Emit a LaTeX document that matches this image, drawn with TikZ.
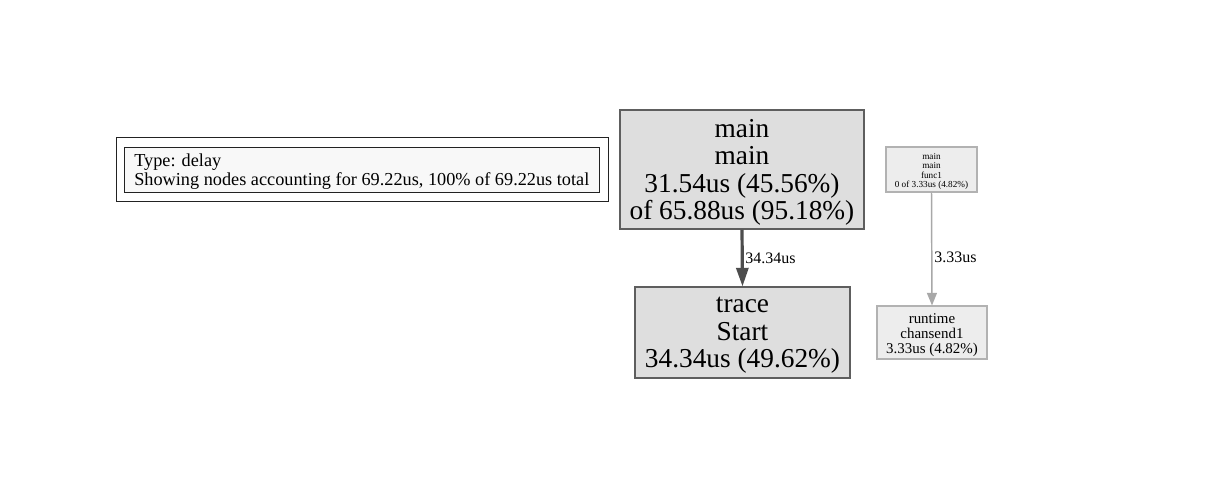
\documentclass[tikz,border=0pt]{standalone}
\usepackage{fontspec}
\setmainfont{Liberation Serif}
\usetikzlibrary{arrows.meta}
\definecolor{bigfill}{HTML}{DEDEDE}
\definecolor{bigdraw}{HTML}{5E5E5E}
\definecolor{smallfill}{HTML}{EDEDED}
\definecolor{smalldraw}{HTML}{B2B2B2}
\definecolor{legfill}{HTML}{F8F8F8}
\definecolor{legdraw}{HTML}{222222}
\definecolor{thickedge}{HTML}{4D4D4D}
\definecolor{thinedge}{HTML}{A8A8A8}
\tikzset{
  box/.style={draw, rectangle, inner sep=0pt, line width=0.8pt},
  bigbox/.style={box, fill=bigfill, draw=bigdraw},
  smallbox/.style={box, fill=smallfill, draw=smalldraw},
  bigtext/.style={align=center, inner sep=0pt, yshift=-2.25pt, font=\fontsize{20.5}{20.6}\selectfont},
  midtext/.style={align=center, inner sep=0pt, yshift=-2pt, font=\fontsize{11.2}{11.25}\selectfont},
  tinytext/.style={align=center, inner sep=0pt, yshift=-1.5pt, font=\fontsize{6.9}{7}\selectfont},
  edgelabel/.style={font=\fontsize{12}{13}\selectfont, inner sep=0pt, anchor=west},
}
\begin{document}
\begin{tikzpicture}[x=0.75pt, y=-0.75pt]
\useasboundingbox (0,0) rectangle (1207,500);
% legend
\node[draw=legdraw, line width=0.75pt, minimum width=369pt, minimum height=48pt, inner sep=0pt] (legout) at (362,169) {};
\node[draw=legdraw, fill=legfill, line width=0.75pt, minimum width=356.25pt, minimum height=33.75pt, inner sep=0pt] (legin) at (361.5,169.5) {};
\node[anchor=west, align=left, inner sep=0pt, font=\fontsize{13.7}{14.25}\selectfont] (legtext) at (134,171.5) {Type: delay\\Showing nodes accounting for 69.22us, 100\% of 69.22us total};
% nodes
\node[bigbox, minimum width=183pt, minimum height=89.25pt,
  label={[bigtext]center:main\\main\\31.54us (45.56\%)\\of 65.88us (95.18\%)}] (main) at (742,169.5) {};
\node[bigbox, minimum width=161.25pt, minimum height=68.25pt,
  label={[bigtext]center:trace\\Start\\34.34us (49.62\%)}] (trace) at (742.5,332.5) {};
\node[smallbox, minimum width=68.25pt, minimum height=33.75pt,
  label={[tinytext]center:main\\main\\func1\\0 of 3.33us (4.82\%)}] (func1) at (931.5,169.5) {};
\node[smallbox, minimum width=82.5pt, minimum height=39.75pt,
  label={[midtext]center:runtime\\chansend1\\3.33us (4.82\%)}] (runtime) at (932,332.5) {};
% edges
\draw[draw=thickedge, line width=2.4pt, -{Triangle[length=14pt, width=9pt]}] (main.south) -- (trace.north);
\node[edgelabel] (l1) at (745,258) {34.34us};
\draw[draw=thinedge, line width=1.1pt, -{Triangle[length=9.5pt, width=7.5pt]}] (func1.south) -- (runtime.north);
\node[edgelabel] (l2) at (934,257) {3.33us};
\end{tikzpicture}
\end{document}
